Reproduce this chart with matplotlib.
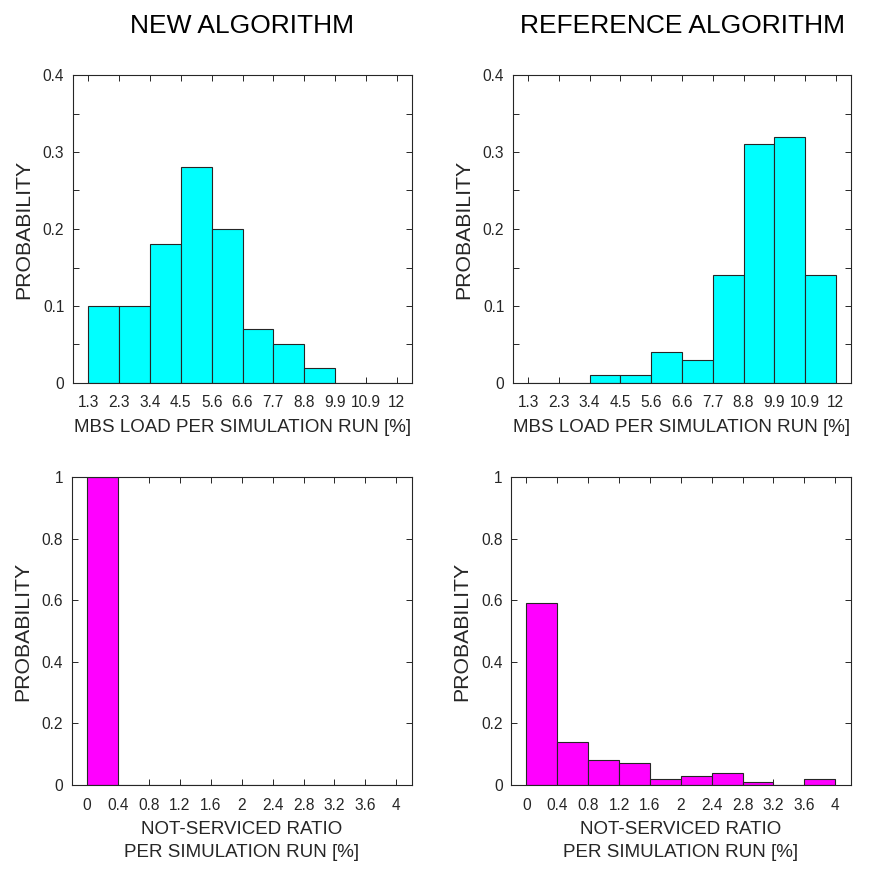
import matplotlib
matplotlib.use("Agg")
import matplotlib.pyplot as plt
import numpy as np

plt.rcParams['font.family'] = ['Liberation Sans', 'DejaVu Sans']

# ---- data ----
load_tick_labels = ['1.3', '2.3', '3.4', '4.5', '5.6', '6.6', '7.7', '8.8', '9.9', '10.9', '12']
load_new = [0.10, 0.10, 0.18, 0.28, 0.20, 0.07, 0.05, 0.02, 0.0, 0.0]
load_ref = [0.0, 0.0, 0.01, 0.01, 0.04, 0.03, 0.14, 0.31, 0.32, 0.14]

ns_tick_labels = ['0', '0.4', '0.8', '1.2', '1.6', '2', '2.4', '2.8', '3.2', '3.6', '4']
ns_new = [1.0, 0, 0, 0, 0, 0, 0, 0, 0, 0]
ns_ref = [0.59, 0.14, 0.08, 0.07, 0.02, 0.03, 0.04, 0.01, 0.0, 0.02]

titles = ['NEW ALGORITHM', 'REFERENCE ALGORITHM']

W = H = 881
fig = plt.figure(figsize=(W / 100, H / 100), dpi=100)

dark = '#262626'

def ax_at(x0, y0, x1, y1):
    return fig.add_axes([x0 / W, 1 - y1 / H, (x1 - x0) / W, (y1 - y0) / H])

def style(ax, labels, vals, color, ymax, ystep, yminor, xlabel):
    n = len(vals)
    pos = np.arange(n) + 0.5
    ax.bar(pos, vals, width=1.0, color=color, edgecolor=dark, linewidth=0.8, zorder=2)
    ax.set_xlim(-0.5, n + 0.5)
    ax.set_ylim(0, ymax)
    ax.set_xticks(np.arange(n + 1))
    ax.set_xticklabels(labels)
    yt = np.round(np.arange(0, ymax + 1e-9, ystep), 3)
    ax.set_yticks(yt)
    ax.set_yticklabels(['%g' % v for v in yt])
    if yminor:
        ax.set_yticks(np.round(np.arange(0, ymax + 1e-9, yminor), 3), minor=True)
    ax.tick_params(which='both', direction='in', top=True, right=True, length=4,
                   width=0.7, color=dark, labelcolor=dark, labelsize=11.2)
    ax.tick_params(axis='x', which='both', pad=9)
    ax.tick_params(axis='y', which='both', pad=6)
    for s in ax.spines.values():
        s.set_color(dark)
        s.set_linewidth(0.8)
    ax.set_ylabel('PROBABILITY', fontsize=15.3, color=dark)
    wpx = ax.get_position().width * W
    ax.yaxis.set_label_coords(-39.5 / wpx, 0.5)
    ax.set_xlabel(xlabel, fontsize=13.5, color=dark, labelpad=6, linespacing=1.45)

ax1 = ax_at(72.7, 75, 412.3, 383)
ax2 = ax_at(512.7, 75, 851.3, 383)
ax3 = ax_at(71.7, 477, 411.7, 785)
ax4 = ax_at(511, 477, 850.7, 785)

style(ax1, load_tick_labels, load_new, '#00FFFF', 0.4, 0.1, 0.05, 'MBS LOAD PER SIMULATION RUN [%]')
style(ax2, load_tick_labels, load_ref, '#00FFFF', 0.4, 0.1, 0.05, 'MBS LOAD PER SIMULATION RUN [%]')
style(ax3, ns_tick_labels, ns_new, '#FF00FF', 1.0, 0.2, None, 'NOT-SERVICED RATIO\nPER SIMULATION RUN [%]')
style(ax4, ns_tick_labels, ns_ref, '#FF00FF', 1.0, 0.2, None, 'NOT-SERVICED RATIO\nPER SIMULATION RUN [%]')

for ax, t in zip([ax1, ax2], titles):
    ax.text(0.5, 1 + (75 - 26) / 308, t, transform=ax.transAxes, ha='center', va='center',
            fontsize=19, color='black')

fig.savefig('out.png', dpi=100)
